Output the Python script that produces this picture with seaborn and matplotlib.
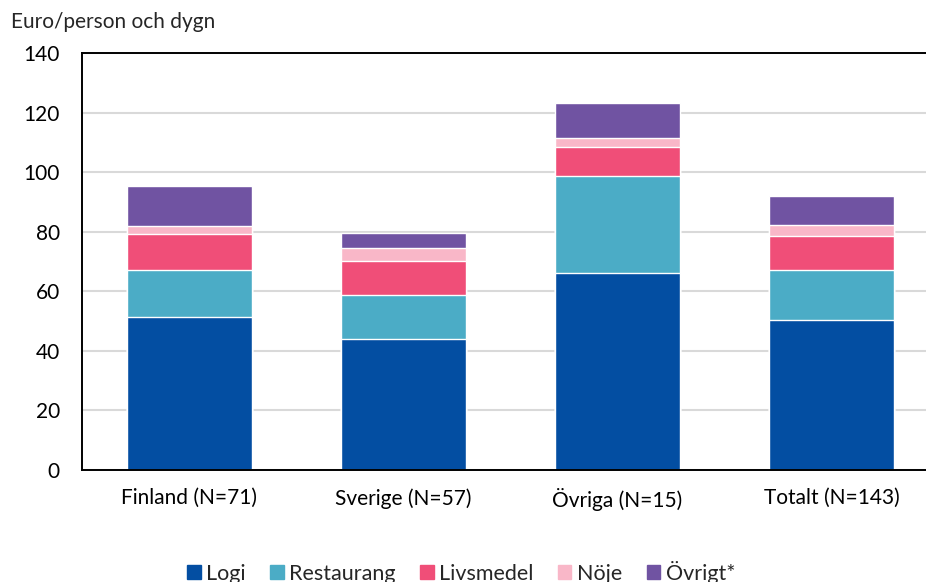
import pandas as pd
import matplotlib.pyplot as plt
import matplotlib.patches as mpatches
import seaborn as sns

categories = ["Finland (N=71)", "Sverige (N=57)", "Övriga (N=15)", "Totalt (N=143)"]
components = ["Logi", "Restaurang", "Livsmedel", "Nöje", "Övrigt*"]
logi = [51.5, 44.1, 66.2, 50.2]
restaurang = [15.6, 14.6, 32.5, 16.8]
livsmedel = [12.2, 11.3, 9.6, 11.5]
noje = [2.6, 4.6, 3.2, 3.6]
ovrigt = [13.4, 5.1, 11.7, 9.9]
colors = ["#034EA2", "#4BACC6", "#F04E78", "#F9B7C8", "#7053A2"]

sns.set_theme(style="white")
plt.rcParams['font.family'] = ['Lato', 'DejaVu Sans']

df = pd.DataFrame({"Kategori": categories, "Logi": logi, "Restaurang": restaurang,
                   "Livsmedel": livsmedel, "Nöje": noje, "Övrigt*": ovrigt})
cum = df[components].cumsum(axis=1)

fig = plt.figure(figsize=(9.26, 5.82), dpi=100)
ax = fig.add_axes([0.0886, 0.1924, 0.9114, 0.7166])

# stacked bars: draw cumulative totals from the top down
for comp, col in reversed(list(zip(components, colors))):
    sns.barplot(x=df["Kategori"], y=cum[comp], color=col, width=0.584,
                edgecolor="white", linewidth=1, saturation=1, ax=ax, zorder=2)

ax.set_ylim(0, 140)
ax.set_yticks(range(0, 141, 20))
ax.set_xlim(-0.5, 3.44)
ax.yaxis.grid(True, color="#d9d9d9", linewidth=1.5, zorder=0)
ax.set_axisbelow(True)
ax.set_xlabel("")
ax.set_ylabel("")
for s in ["left", "top", "bottom"]:
    ax.spines[s].set_color("black")
    ax.spines[s].set_linewidth(1.4)
ax.spines["right"].set_visible(False)
ax.tick_params(axis="both", labelsize=15, colors="black", length=0)
ax.tick_params(axis="y", pad=16)
ax.tick_params(axis="x", pad=13)

fig.text(0.012, 0.962, "Euro/person och dygn", fontsize=15, ha="left", va="center")

handles = [mpatches.Patch(color=c, label=l) for c, l in zip(colors, components)]
fig.legend(handles=handles, loc="center", bbox_to_anchor=(0.498, 0.017), ncol=5,
           frameon=False, fontsize=15.5, handlelength=0.62, handleheight=0.62,
           handletextpad=0.25, columnspacing=1.15, borderpad=0)

fig.savefig("out.png", dpi=100)
